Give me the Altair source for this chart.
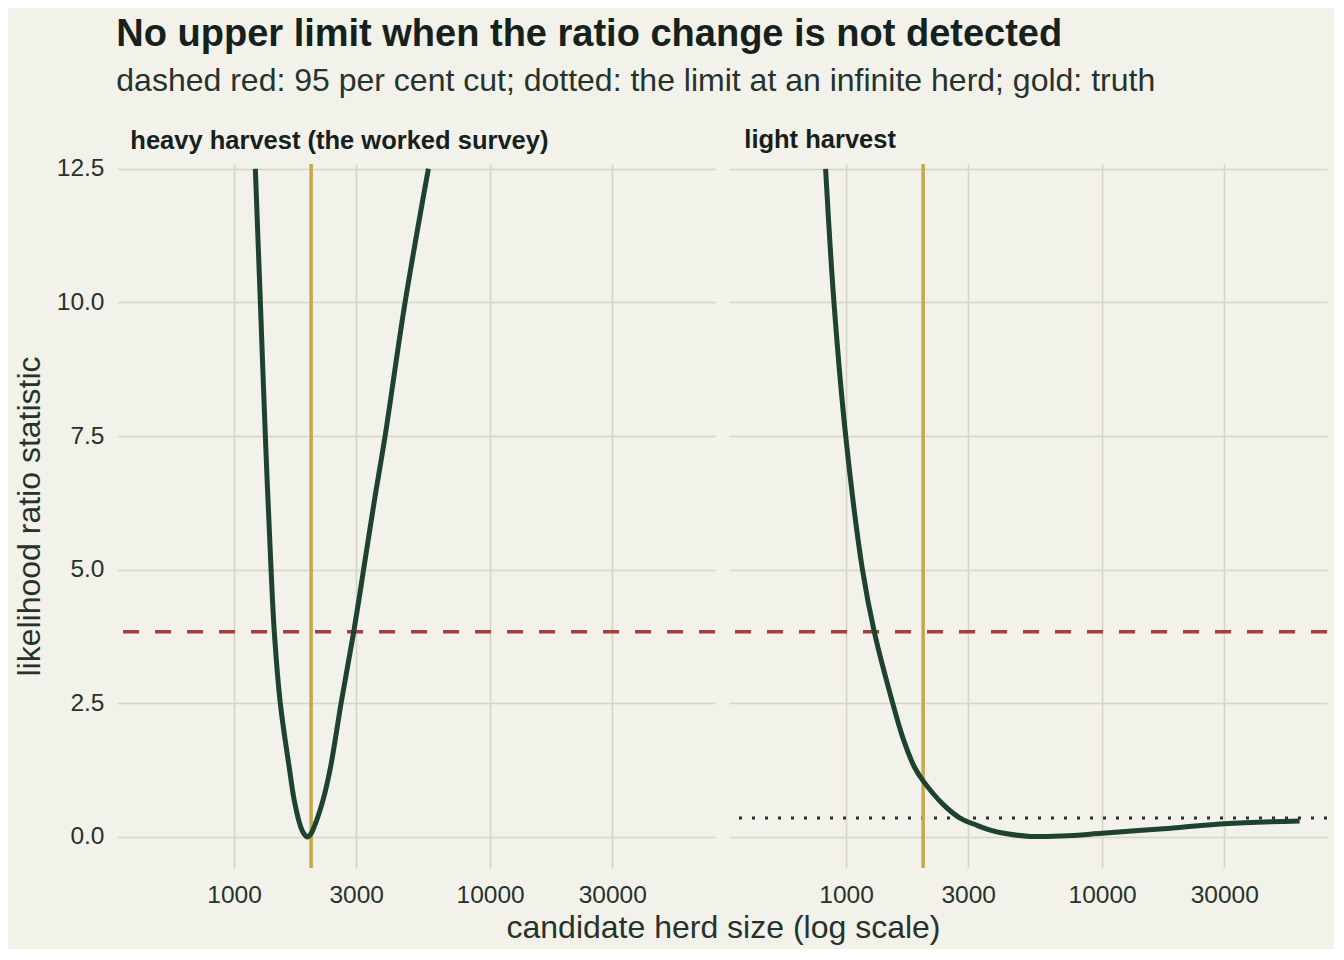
import altair as alt
import pandas as pd

heavy_n = [1211, 1267, 1325, 1395, 1436, 1516, 1644, 1721, 1827, 1880,
           1930, 1990, 2048, 2220, 2378, 2618, 2934, 3206, 3532, 3890, 4656, 5742]
heavy_lr = [12.5, 10.0, 7.5, 5.0, 3.84, 2.5, 1.29, 0.67, 0.17, 0.05,
            0.0, 0.05, 0.17, 0.67, 1.29, 2.5, 3.84, 5.0, 6.29, 7.5, 10.0, 12.5]

light_n = [832, 897, 997, 1159, 1289, 1522, 1666, 1853, 2000, 2394, 2786, 3241,
           3656, 4254, 5250, 7000, 10000, 17400, 30000, 59100]
light_lr = [12.5, 10.0, 7.5, 5.0, 3.84, 2.5, 1.86, 1.30, 1.05, 0.61, 0.355, 0.22,
            0.13, 0.06, 0.01, 0.02, 0.07, 0.156, 0.25, 0.30]

panel_labels = ["heavy harvest (the worked survey)", "light harvest"]
cut_95 = 3.84
infinite_limit = 0.355
true_herd = 2000
x_ticks = [1000, 3000, 10000, 30000]
y_ticks = [0, 2.5, 5, 7.5, 10, 12.5]
x_domain = [349, 75600]
y_domain = [-0.58, 12.59]

FONT = "Liberation Sans"
BG = "#f2f1ea"
INK = "#16211b"
SOFT = "#26332c"


def panel(n, lr, label, first, dotted, title_dx, title_offset):
    xscale = alt.Scale(type="log", domain=x_domain, nice=False)
    yscale = alt.Scale(domain=y_domain, nice=False, zero=False)
    if first:
        xaxis = alt.Axis(values=x_ticks, format="d", title="candidate herd size (log scale)",
                         titleX=606, titleAlign="center")
        yaxis = alt.Axis(values=y_ticks, format=".1f", title="likelihood ratio statistic")
    else:
        xaxis = alt.Axis(values=x_ticks, format="d", title=None)
        yaxis = alt.Axis(values=y_ticks, labels=False, title=None)

    curve = alt.Chart(pd.DataFrame({"n": n, "lr": lr})).mark_line(
        color="#1f4230", strokeWidth=5, interpolate="catmull-rom"
    ).encode(
        x=alt.X("n:Q", scale=xscale, axis=xaxis),
        y=alt.Y("lr:Q", scale=yscale, axis=yaxis),
    )
    cut = alt.Chart(pd.DataFrame({"lr": [cut_95]})).mark_rule(
        color="#a63d40", strokeWidth=3.4, strokeDash=[16, 16]
    ).encode(y=alt.Y("lr:Q", scale=yscale))
    truth = alt.Chart(pd.DataFrame({"n": [true_herd]})).mark_rule(
        color="#c4a84a", strokeWidth=3.5
    ).encode(x=alt.X("n:Q", scale=xscale))

    layers = [cut]
    if dotted:
        layers.append(alt.Chart(pd.DataFrame({"lr": [infinite_limit]})).mark_rule(
            color="#2e2e2e", strokeWidth=3, strokeDash=[3, 10]
        ).encode(y=alt.Y("lr:Q", scale=yscale)))
    layers += [truth, curve]

    return alt.layer(*layers).properties(
        width=598, height=704,
        title=alt.TitleParams(label, anchor="start", dx=title_dx, fontSize=25.5,
                              fontWeight="bold", font=FONT, color=INK, baseline="bottom",
                              offset=title_offset),
    )


chart = alt.hconcat(
    panel(heavy_n, heavy_lr, panel_labels[0], True, False, 117, -23.5),
    panel(light_n, light_lr, panel_labels[1], False, True, 17, -19.5),
    spacing=14, bounds="flush",
).properties(
    background=BG,
    padding={"left": 5, "top": 8, "right": 5, "bottom": 5},
    title=alt.TitleParams(
        "No upper limit when the ratio change is not detected",
        subtitle="dashed red: 95 per cent cut; dotted: the limit at an infinite herd; gold: truth",
        anchor="start", dx=103, fontSize=38, fontWeight="bold", font=FONT, color=INK,
        subtitleFont=FONT, subtitleFontSize=32, subtitleColor=SOFT, subtitlePadding=12,
        offset=30.5,
    ),
).configure_view(
    stroke=None, fill=BG
).configure_axis(
    grid=True, gridColor="#d6d6c3", gridWidth=1.7, domain=False, ticks=False,
    labelFont=FONT, labelFontSize=24.5, labelColor=SOFT, labelPadding=13,
    titleFont=FONT, titleFontSize=32, titleColor=SOFT, titleFontWeight="normal",
    titlePadding=10,
).configure_axisX(
    labelPadding=15, titlePadding=6
)

chart.save("out.html", embed_options={"renderer": "svg", "actions": False})
